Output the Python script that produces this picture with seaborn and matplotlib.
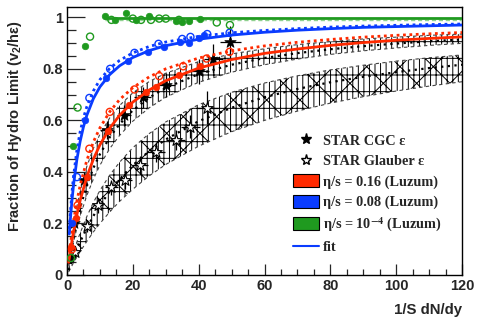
import numpy as np
import pandas as pd
import matplotlib
matplotlib.use("Agg")
import matplotlib.pyplot as plt
import seaborn as sns
from matplotlib.lines import Line2D
from matplotlib.patches import Patch
from matplotlib.ticker import MultipleLocator, FuncFormatter

# ---------------- data ----------------
grid_x = [0.5, 1, 2, 3, 4, 6, 8, 10, 13, 16, 20, 25, 30, 40, 50, 60, 70, 80, 90, 100, 110, 120]

# CGC band (upper, lower) and its fit
cgc_up = [0.057, 0.108, 0.194, 0.265, 0.325, 0.420, 0.491, 0.546, 0.610, 0.658, 0.707, 0.751, 0.783, 0.828, 0.858, 0.878, 0.894, 0.906, 0.916, 0.923, 0.930, 0.935]
cgc_lo = [0.036, 0.069, 0.129, 0.182, 0.229, 0.308, 0.372, 0.426, 0.491, 0.542, 0.597, 0.649, 0.690, 0.748, 0.787, 0.816, 0.838, 0.856, 0.870, 0.881, 0.891, 0.899]
cgc_fit = [0.042, 0.081, 0.150, 0.210, 0.261, 0.347, 0.415, 0.469, 0.535, 0.586, 0.639, 0.689, 0.726, 0.780, 0.816, 0.842, 0.861, 0.876, 0.888, 0.898, 0.907, 0.914]

# Glauber band (upper, lower) and its fit
gla_up = [0.024, 0.047, 0.089, 0.128, 0.163, 0.226, 0.281, 0.328, 0.388, 0.438, 0.494, 0.549, 0.594, 0.661, 0.709, 0.745, 0.773, 0.796, 0.814, 0.830, 0.843, 0.854]
gla_lo = [0.012, 0.024, 0.048, 0.070, 0.091, 0.130, 0.167, 0.200, 0.245, 0.286, 0.333, 0.385, 0.429, 0.500, 0.556, 0.600, 0.636, 0.667, 0.692, 0.714, 0.733, 0.750]
gla_fit = [0.018, 0.036, 0.069, 0.100, 0.129, 0.182, 0.229, 0.270, 0.325, 0.372, 0.426, 0.481, 0.526, 0.597, 0.649, 0.690, 0.722, 0.748, 0.769, 0.787, 0.803, 0.816]

# Luzum eta/s = 0.16 (red) curves
red_fit = [0.049, 0.093, 0.169, 0.234, 0.290, 0.380, 0.449, 0.505, 0.570, 0.620, 0.671, 0.718, 0.754, 0.803, 0.836, 0.860, 0.877, 0.891, 0.902, 0.911, 0.918, 0.924]
red_fit2 = [0.0625, 0.118, 0.211, 0.286, 0.348, 0.444, 0.516, 0.571, 0.634, 0.681, 0.727, 0.769, 0.800, 0.842, 0.870, 0.889, 0.903, 0.914, 0.923, 0.930, 0.936, 0.941]

# Luzum eta/s = 0.08 (blue) curves
blue_x = [0.7, 1, 1.5, 2, 3, 4, 5, 6, 8, 10, 13, 16, 20, 25, 30, 40, 50, 60, 70, 80, 90, 100, 110, 120]
blue_fit = [0.159, 0.213, 0.288, 0.351, 0.448, 0.519, 0.575, 0.619, 0.684, 0.730, 0.778, 0.812, 0.844, 0.871, 0.890, 0.915, 0.931, 0.942, 0.950, 0.956, 0.961, 0.964, 0.967, 0.970]
blue_fit2 = [0.179, 0.238, 0.319, 0.385, 0.484, 0.556, 0.610, 0.652, 0.714, 0.758, 0.802, 0.833, 0.862, 0.887, 0.904, 0.926, 0.940, 0.949, 0.956, 0.962, 0.966, 0.969, 0.972, 0.974]

# Luzum eta/s = 1e-4 (green) curves
green_x = [11.5, 120]
green_fit = [0.997, 0.997]
green_fit2 = [0.991, 0.991]

# Luzum points
red_f_x = [1.2, 2.8, 6.0, 12.5, 18.8, 24.0, 27.0, 34.0, 40.5]
red_f_y = [0.11, 0.22, 0.38, 0.56, 0.66, 0.71, 0.73, 0.775, 0.81]
red_o_x = [1.5, 3.2, 6.8, 13.0, 20.5, 28.0, 35.3, 42.4, 49.4]
red_o_y = [0.10, 0.27, 0.49, 0.633, 0.72, 0.772, 0.81, 0.84, 0.866]

blue_f_x = [1.5, 5.5, 11.8, 18.5, 24.5, 29.5, 34.4, 37.0, 40.0, 41.7]
blue_f_y = [0.20, 0.60, 0.765, 0.83, 0.866, 0.885, 0.905, 0.90, 0.918, 0.93]
blue_o_x = [3.0, 6.8, 13.1, 20.5, 27.8, 35.0, 37.5, 42.6, 49.4]
blue_o_y = [0.38, 0.687, 0.80, 0.862, 0.897, 0.916, 0.924, 0.935, 0.94]

green_f_x = [1.8, 5.5, 11.5, 14.5, 18.0, 21.0, 25.0, 33.0, 35.0, 37.0, 40.5]
green_f_y = [0.50, 0.89, 1.005, 0.99, 1.015, 0.99, 1.005, 0.985, 0.98, 0.985, 0.995]
green_o_x = [1.2, 3.2, 7.0, 13.5, 20.0, 22.5, 25.5, 28.0, 30.0, 34.0, 45.5, 49.5]
green_o_y = [0.066, 0.65, 0.925, 0.99, 0.995, 0.99, 0.99, 0.995, 0.995, 0.99, 0.98, 0.97]

# STAR data
cgc_x = [0.8, 2.2, 5.2, 12.0, 17.3, 23.0, 30.0, 40.2, 44.5, 49.6]
cgc_y = [0.07, 0.20, 0.37, 0.563, 0.62, 0.69, 0.737, 0.79, 0.84, 0.905]
cgc_yerr = [0.02, 0.03, 0.03, 0.035, 0.04, 0.04, 0.045, 0.05, 0.055, 0.06]
cgc_xerr = [0.5, 1.0, 1.5, 2.0, 2.2, 2.5, 2.8, 3.0, 3.0, 3.2]

gla_x = [2.5, 6.0, 9.5, 13.5, 17.5, 22.2, 27.0, 33.0, 37.5, 42.6]
gla_y = [0.09, 0.19, 0.27, 0.34, 0.37, 0.427, 0.478, 0.524, 0.575, 0.65]
gla_yerr = [0.02, 0.025, 0.03, 0.03, 0.035, 0.035, 0.04, 0.04, 0.045, 0.065]
gla_xerr = [0.8, 1.2, 1.5, 2.0, 2.2, 2.5, 2.8, 3.0, 3.0, 3.2]

legend_labels = ["STAR CGC ε", "STAR Glauber ε", "η/s = 0.16 (Luzum)",
                 "η/s = 0.08 (Luzum)", r"η/s = 10$^{\mathbf{-4}}$ (Luzum)", "fit"]

RED = "#ff2a00"
BLUE = "#0a3cff"
GREEN = "#1f9a1f"

# ---------------- figure ----------------
sns.set_style("ticks")
plt.rcParams["font.family"] = ["Liberation Sans", "DejaVu Sans"]
plt.rcParams["hatch.linewidth"] = 0.7
plt.rcParams["mathtext.fontset"] = "custom"
plt.rcParams["mathtext.rm"] = "Liberation Sans:bold"
plt.rcParams["mathtext.bf"] = "Liberation Sans:bold"

fig = plt.figure(figsize=(4.78, 3.18), dpi=100)
ax = fig.add_axes([67 / 478, 43 / 318, 395 / 478, 268 / 318])

# bands
ax.fill_between(grid_x, gla_lo, gla_up, facecolor="none", edgecolor="black",
                hatch="|||-x", linewidth=0, zorder=1)
ax.fill_between(grid_x, cgc_lo, cgc_up, facecolor="none", edgecolor="black",
                hatch="|||-", linewidth=0, zorder=1)
for arr in (cgc_up, cgc_lo, gla_up, gla_lo):
    sns.lineplot(x=grid_x, y=arr, ax=ax, color="#444444", lw=0.8,
                 linestyle=(0, (3, 3)), zorder=2)
for arr in (cgc_fit, gla_fit):
    sns.lineplot(x=grid_x, y=arr, ax=ax, color="black", lw=1.6,
                 linestyle=(0, (1, 2)), zorder=3)

# STAR data
ax.errorbar(cgc_x, cgc_y, yerr=cgc_yerr, xerr=cgc_xerr, fmt="none",
            ecolor="black", elinewidth=0.9, capsize=0, zorder=4)
ax.errorbar(gla_x, gla_y, yerr=gla_yerr, xerr=gla_xerr, fmt="none",
            ecolor="black", elinewidth=0.9, capsize=0, zorder=4)
sns.scatterplot(x=cgc_x, y=cgc_y, ax=ax, marker="*", s=75, color="black",
                edgecolor="black", linewidth=0.5, zorder=5)
sns.scatterplot(x=gla_x, y=gla_y, ax=ax, marker="*", s=75, facecolor="white",
                edgecolor="black", linewidth=0.8, zorder=5)

# Luzum curves
sns.lineplot(x=grid_x, y=red_fit2, ax=ax, color=RED, lw=2.0, linestyle=(0, (1, 1.3)), zorder=6)
sns.lineplot(x=grid_x, y=red_fit, ax=ax, color=RED, lw=2.0, zorder=6)
sns.lineplot(x=blue_x, y=blue_fit2, ax=ax, color=BLUE, lw=2.0, linestyle=(0, (1, 1.3)), zorder=6)
sns.lineplot(x=blue_x, y=blue_fit, ax=ax, color=BLUE, lw=2.0, zorder=6)
sns.lineplot(x=green_x, y=green_fit2, ax=ax, color="#8fd18f", lw=1.0, linestyle=(0, (3, 2)), zorder=6)
sns.lineplot(x=green_x, y=green_fit, ax=ax, color=GREEN, lw=2.0, zorder=6)

for fx, fy, ox, oy, c in ((red_f_x, red_f_y, red_o_x, red_o_y, RED),
                          (blue_f_x, blue_f_y, blue_o_x, blue_o_y, BLUE),
                          (green_f_x, green_f_y, green_o_x, green_o_y, GREEN)):
    sns.scatterplot(x=fx, y=fy, ax=ax, marker="o", s=22, color=c,
                    edgecolor=c, linewidth=0.5, zorder=7)
    sns.scatterplot(x=ox, y=oy, ax=ax, marker="o", s=26, facecolor="none",
                    edgecolor=c, linewidth=1.0, zorder=7)

# axes styling (ROOT-like)
ax.set_xlim(0, 120)
ax.set_ylim(0, 1.04)
ax.xaxis.set_major_locator(MultipleLocator(20))
ax.xaxis.set_minor_locator(MultipleLocator(5))
ax.yaxis.set_major_locator(MultipleLocator(0.2))
ax.yaxis.set_minor_locator(MultipleLocator(0.05))
ax.yaxis.set_major_formatter(FuncFormatter(lambda v, p: "%g" % round(v, 2)))
ax.tick_params(axis="both", which="both", direction="in", top=False, right=False,
               labelsize=10.5, width=0.9)
ax.tick_params(axis="x", which="major", length=8, pad=3)
ax.tick_params(axis="x", which="minor", length=4)
ax.tick_params(axis="y", which="major", length=13, pad=3)
ax.tick_params(axis="y", which="minor", length=6.5)
for lab in ax.get_xticklabels() + ax.get_yticklabels():
    lab.set_fontweight("bold")
for sp in ax.spines.values():
    sp.set_linewidth(1.0)
    sp.set_color("black")

ax.set_xlabel("1/S dN/dy", fontsize=10.8, fontweight="bold", loc="right")
ax.xaxis.label.set_verticalalignment("top")
ax.xaxis.set_label_coords(1.0, -0.103)
ax.set_ylabel("Fraction of Hydro Limit (v$_{2}$/hε)", fontsize=10.6, fontweight="bold",
              loc="top")
ax.yaxis.set_label_coords(-0.11, 0.952)

# legend
handles = [
    Line2D([], [], marker="*", color="black", linestyle="none", markersize=8),
    Line2D([], [], marker="*", markerfacecolor="white", markeredgecolor="black",
           linestyle="none", markersize=8),
    Patch(facecolor=RED, edgecolor="black", linewidth=0.8),
    Patch(facecolor=BLUE, edgecolor="black", linewidth=0.8),
    Patch(facecolor=GREEN, edgecolor="black", linewidth=0.8),
    Line2D([], [], color=BLUE, lw=1.5),
]
leg = ax.legend(handles, legend_labels, loc="upper left",
                bbox_to_anchor=(0.572, 0.528), frameon=False, borderpad=0,
                borderaxespad=0, handlelength=1.8, handleheight=1.0,
                handletextpad=0.3, labelspacing=0.43,
                prop={"family": "Liberation Serif", "weight": "bold", "size": 10.3})
for t in leg.get_texts():
    t.set_math_fontfamily("stix")

fig.savefig("out.png", dpi=100)
